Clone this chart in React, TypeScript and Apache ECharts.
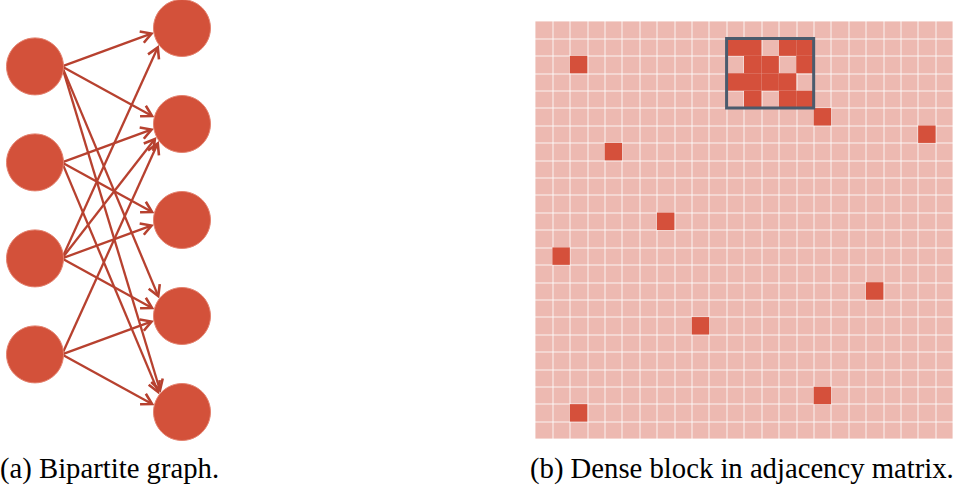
import React, { useEffect, useRef } from "react";
import * as echarts from "echarts";

// ---- Data ----
const LEFT_NODES = ["u1", "u2", "u3", "u4"];
const RIGHT_NODES = ["v1", "v2", "v3", "v4", "v5"];
const EDGES: [string, string][] = [
  ["u1", "v1"], ["u1", "v2"], ["u1", "v4"], ["u1", "v5"],
  ["u2", "v2"], ["u2", "v3"], ["u2", "v5"],
  ["u3", "v1"], ["u3", "v2"], ["u3", "v3"], ["u3", "v4"],
  ["u4", "v2"], ["u4", "v4"], ["u4", "v5"],
];

const MATRIX_SIZE = 24;
// [column, row] of non-zero entries inside the dense block
const DENSE_BLOCK_CELLS: [number, number][] = [
  [11, 1], [12, 1], [14, 1], [15, 1],
  [12, 2], [13, 2], [15, 2],
  [11, 3], [12, 3], [13, 3], [14, 3],
  [12, 4], [14, 4], [15, 4],
];
// isolated non-zero entries
const SCATTERED_CELLS: [number, number][] = [
  [2, 2], [16, 5], [22, 6], [4, 7], [7, 11], [1, 13],
  [19, 15], [9, 17], [16, 21], [2, 22],
];
// dense block bounds: [colStart, rowStart, colEnd, rowEnd]
const DENSE_BLOCK: [number, number, number, number] = [11, 1, 15, 4];

const CAPTIONS = ["(a) Bipartite graph.", "(b) Dense block in adjacency matrix."];

// ---- Styles / layout ----
const LEFT_OFFSET = 0.4;
const NODE_R = 28;
const NODE_COLOR = "#D3513A";
const EDGE_COLOR = "#B7412F";
const CELL_BG = "#EDB9B1";
const CELL_DARK = "#D5503B";
const BLOCK_STROKE = "#4B5B6D";
const SERIF = "Liberation Serif";

export default function App() {
  const ref = useRef<HTMLDivElement>(null);

  useEffect(() => {
    if (!ref.current) return;
    const chart = echarts.init(ref.current, undefined, { renderer: "svg" });

    const leftIdx: Record<string, number> = {};
    LEFT_NODES.forEach((n, i) => (leftIdx[n] = i));
    const rightIdx: Record<string, number> = {};
    RIGHT_NODES.forEach((n, i) => (rightIdx[n] = i));

    const nodeData = [
      ...LEFT_NODES.map((n, j) => ({ name: n, value: [0, j + LEFT_OFFSET] })),
      ...RIGHT_NODES.map((n, i) => ({ name: n, value: [1, i] })),
    ];
    const edgeData = EDGES.map(([s, t]) => [0, leftIdx[s] + LEFT_OFFSET, 1, rightIdx[t]]);

    const categories = Array.from({ length: MATRIX_SIZE }, (_, i) => String(i));
    const cellData = [...DENSE_BLOCK_CELLS, ...SCATTERED_CELLS];

    const hiddenCat = {
      type: "category",
      data: categories,
      gridIndex: 1,
      axisLine: { show: false },
      axisTick: { show: false },
      axisLabel: { show: false },
      splitLine: {
        show: true,
        interval: 0,
        lineStyle: { color: "rgba(255,255,255,0.55)", width: 1.5 },
      },
    };

    const captionStyle = {
      fontFamily: SERIF,
      fontSize: 28.7,
      fill: "#000",
    };

    chart.setOption({
      animation: false,
      graphic: [
        { type: "text", left: 0, top: 453, style: { ...captionStyle, text: CAPTIONS[0] } },
        { type: "text", left: 530, top: 453, style: { ...captionStyle, text: CAPTIONS[1] } },
      ],
      grid: [
        { left: 35, top: 28, width: 147, height: 384 },
        {
          left: 535, top: 21, width: 418, height: 418,
          show: true, backgroundColor: CELL_BG, borderWidth: 0,
        },
      ],
      xAxis: [
        { type: "value", gridIndex: 0, min: 0, max: 1, show: false },
        { ...hiddenCat },
      ],
      yAxis: [
        { type: "value", gridIndex: 0, min: 0, max: 4, inverse: true, show: false },
        { ...hiddenCat, inverse: true },
      ],
      series: [
        {
          type: "custom",
          xAxisIndex: 0,
          yAxisIndex: 0,
          z: 1,
          clip: false,
          encode: { x: [0, 2], y: [1, 3] },
          data: edgeData,
          renderItem: (params: any, api: any) => {
            const a = api.coord([api.value(0), api.value(1)]);
            const b = api.coord([api.value(2), api.value(3)]);
            const start = [a[0] + NODE_R - 1, a[1]];
            const aim = [b[0] - NODE_R * 0.55, b[1]];
            const dx = aim[0] - start[0];
            const dy = aim[1] - start[1];
            const len = Math.sqrt(dx * dx + dy * dy);
            const ux = dx / len;
            const uy = dy / len;
            const rr = NODE_R + 3;
            const wx = start[0] - b[0];
            const wy = start[1] - b[1];
            const wu = wx * ux + wy * uy;
            const disc = wu * wu - (wx * wx + wy * wy) + rr * rr;
            const t = -wu - Math.sqrt(Math.max(disc, 0));
            const tip = [start[0] + t * ux, start[1] + t * uy];
            const L = 12;
            const c = Math.cos(Math.PI / 6);
            const s = Math.sin(Math.PI / 6);
            const nx = -uy;
            const ny = ux;
            const w1 = [tip[0] - L * (c * ux + s * nx), tip[1] - L * (c * uy + s * ny)];
            const w2 = [tip[0] - L * (c * ux - s * nx), tip[1] - L * (c * uy - s * ny)];
            return {
              type: "group",
              children: [
                {
                  type: "line",
                  shape: { x1: start[0], y1: start[1], x2: tip[0] - ux, y2: tip[1] - uy },
                  style: { stroke: EDGE_COLOR, lineWidth: 2.3 },
                },
                {
                  type: "polyline",
                  shape: { points: [w1, tip, w2] },
                  style: { stroke: EDGE_COLOR, lineWidth: 2.6, fill: null, lineJoin: "miter" },
                },
              ],
            };
          },
        },
        {
          type: "scatter",
          xAxisIndex: 0,
          yAxisIndex: 0,
          z: 3,
          clip: false,
          symbol: "circle",
          symbolSize: NODE_R * 2 + 1,
          itemStyle: { color: NODE_COLOR, borderColor: "#E4826F", borderWidth: 1, opacity: 1 },
          emphasis: { disabled: true },
          data: nodeData,
        },
        {
          type: "custom",
          xAxisIndex: 1,
          yAxisIndex: 1,
          z: 2,
          encode: { x: 0, y: 1 },
          data: cellData,
          renderItem: (params: any, api: any) => {
            const p = api.coord([api.value(0), api.value(1)]);
            const sz = api.size([1, 1]);
            return {
              type: "rect",
              shape: { x: p[0] - sz[0] / 2, y: p[1] - sz[1] / 2, width: sz[0], height: sz[1] },
              style: { fill: CELL_DARK },
            };
          },
        },
        {
          type: "custom",
          xAxisIndex: 1,
          yAxisIndex: 1,
          z: 4,
          encode: { x: [0, 2], y: [1, 3] },
          data: [DENSE_BLOCK],
          renderItem: (params: any, api: any) => {
            const p0 = api.coord([api.value(0), api.value(1)]);
            const p1 = api.coord([api.value(2), api.value(3)]);
            const sz = api.size([1, 1]);
            const x0 = Math.min(p0[0], p1[0]) - sz[0] / 2;
            const x1 = Math.max(p0[0], p1[0]) + sz[0] / 2;
            const y0 = Math.min(p0[1], p1[1]) - sz[1] / 2;
            const y1 = Math.max(p0[1], p1[1]) + sz[1] / 2;
            return {
              type: "rect",
              shape: { x: x0, y: y0, width: x1 - x0, height: y1 - y0 },
              style: { fill: null, stroke: BLOCK_STROKE, lineWidth: 3 },
            };
          },
        },
      ],
    });

    return () => chart.dispose();
  }, []);

  return (
    <div
      ref={ref}
      style={{ position: "absolute", left: 0, top: 0, width: 961, height: 495, background: "#fff" }}
    />
  );
}
